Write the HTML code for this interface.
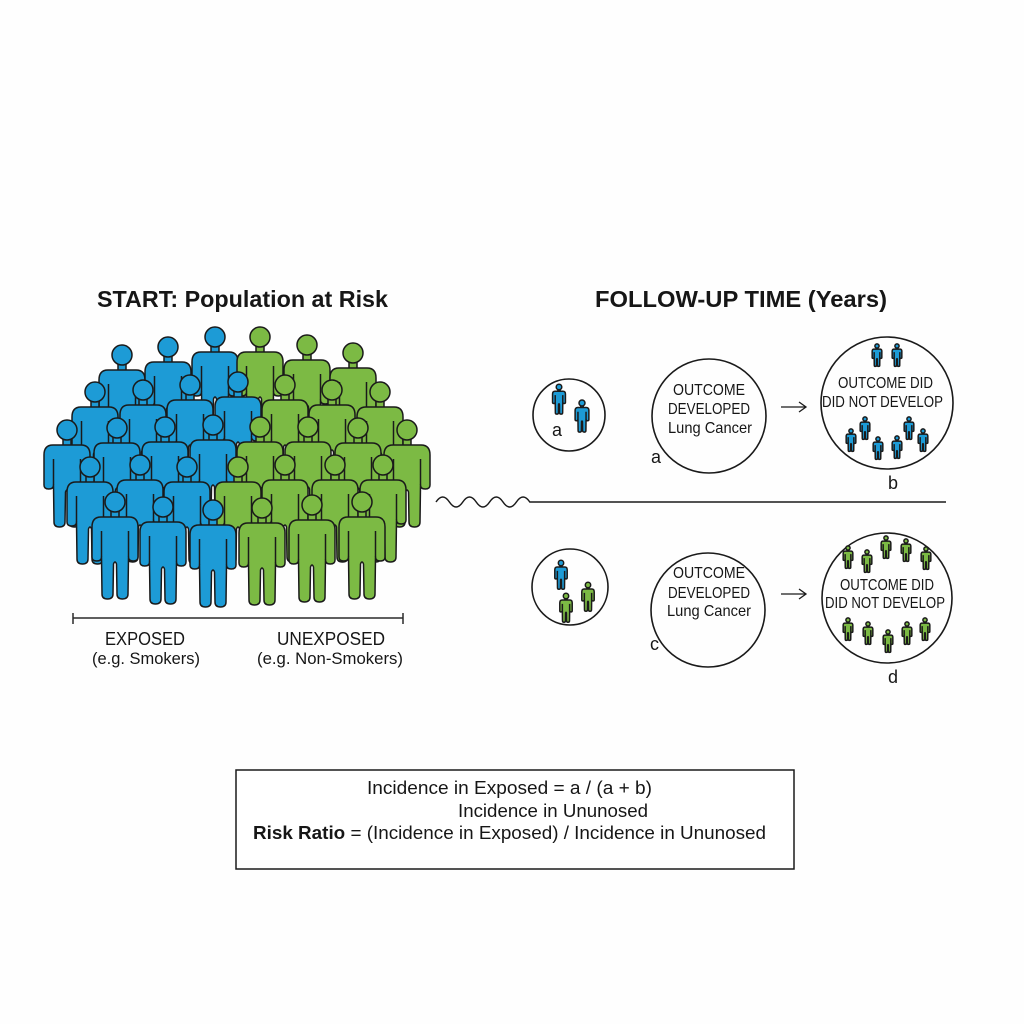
<!DOCTYPE html>
<html>
<head>
<meta charset="utf-8">
<style>
  html,body{margin:0;padding:0;background:#fefefe;}
  svg{display:block;}
  text{font-family:"Liberation Sans",Arial,sans-serif;fill:#161616;}
</style>
</head>
<body>
<svg width="1024" height="1024" viewBox="0 0 1024 1024" xmlns="http://www.w3.org/2000/svg">
  <defs>
    <g id="p" stroke="#1a1a1a" stroke-width="1.5" stroke-linejoin="round">
      <rect x="-4" y="7" width="8" height="9" vector-effect="non-scaling-stroke"/>
      <path vector-effect="non-scaling-stroke" d="M-14,15 L14,15 Q23,15 23,25 L23,55 Q23,59 18.3,59 Q13.5,59 13.5,55 L13,92 Q13,97 7.5,97 Q2,97 2,92 L1.5,62 Q0,58 -1.5,62 L-2,92 Q-2,97 -7.5,97 Q-13,97 -13,92 L-13.5,55 Q-13.5,59 -18.3,59 Q-23,59 -23,55 L-23,25 Q-23,15 -14,15 Z"/>
      <path vector-effect="non-scaling-stroke" d="M13.5,29 L13.5,55 M-13.5,29 L-13.5,55" fill="none"/>
      <circle r="10" vector-effect="non-scaling-stroke"/>
    </g>
  </defs>

  <rect width="1024" height="1024" fill="#fefefe"/>

  <!-- Titles -->
  <text x="97" y="307" font-size="23" font-weight="bold" textLength="291" lengthAdjust="spacingAndGlyphs">START: Population at Risk</text>
  <text x="595" y="307" font-size="23" font-weight="bold" textLength="292" lengthAdjust="spacingAndGlyphs">FOLLOW-UP TIME (Years)</text>

  <!-- Crowd: row 1 (back) -->
  <g>
    <use href="#p" x="122" y="355" fill="#1d9bd6"/>
    <use href="#p" x="168" y="347" fill="#1d9bd6"/>
    <use href="#p" x="215" y="337" fill="#1d9bd6"/>
    <use href="#p" x="260" y="337" fill="#7cba44"/>
    <use href="#p" x="307" y="345" fill="#7cba44"/>
    <use href="#p" x="353" y="353" fill="#7cba44"/>
  </g>
  <!-- row 2 -->
  <g>
    <use href="#p" x="95" y="392" fill="#1d9bd6"/>
    <use href="#p" x="143" y="390" fill="#1d9bd6"/>
    <use href="#p" x="190" y="385" fill="#1d9bd6"/>
    <use href="#p" x="238" y="382" fill="#1d9bd6"/>
    <use href="#p" x="285" y="385" fill="#7cba44"/>
    <use href="#p" x="332" y="390" fill="#7cba44"/>
    <use href="#p" x="380" y="392" fill="#7cba44"/>
  </g>
  <!-- row 3 -->
  <g>
    <use href="#p" x="67" y="430" fill="#1d9bd6"/>
    <use href="#p" x="117" y="428" fill="#1d9bd6"/>
    <use href="#p" x="165" y="427" fill="#1d9bd6"/>
    <use href="#p" x="213" y="425" fill="#1d9bd6"/>
    <use href="#p" x="260" y="427" fill="#7cba44"/>
    <use href="#p" x="308" y="427" fill="#7cba44"/>
    <use href="#p" x="358" y="428" fill="#7cba44"/>
    <use href="#p" x="407" y="430" fill="#7cba44"/>
  </g>
  <!-- row 4 -->
  <g>
    <use href="#p" x="90" y="467" fill="#1d9bd6"/>
    <use href="#p" x="140" y="465" fill="#1d9bd6"/>
    <use href="#p" x="187" y="467" fill="#1d9bd6"/>
    <use href="#p" x="238" y="467" fill="#7cba44"/>
    <use href="#p" x="285" y="465" fill="#7cba44"/>
    <use href="#p" x="335" y="465" fill="#7cba44"/>
    <use href="#p" x="383" y="465" fill="#7cba44"/>
  </g>
  <!-- row 5 (front) -->
  <g>
    <use href="#p" x="115" y="502" fill="#1d9bd6"/>
    <use href="#p" x="163" y="507" fill="#1d9bd6"/>
    <use href="#p" x="213" y="510" fill="#1d9bd6"/>
    <use href="#p" x="262" y="508" fill="#7cba44"/>
    <use href="#p" x="312" y="505" fill="#7cba44"/>
    <use href="#p" x="362" y="502" fill="#7cba44"/>
  </g>

  <!-- Bracket -->
  <g stroke="#2a2a2a" stroke-width="1.5" fill="none">
    <line x1="73" y1="618" x2="403" y2="618"/>
    <line x1="73" y1="613" x2="73" y2="624"/>
    <line x1="403" y1="613" x2="403" y2="624"/>
  </g>
  <text x="105" y="645" font-size="18" textLength="80" lengthAdjust="spacingAndGlyphs">EXPOSED</text>
  <text x="92" y="664" font-size="17" textLength="108" lengthAdjust="spacingAndGlyphs">(e.g. Smokers)</text>
  <text x="277" y="645" font-size="18" textLength="108" lengthAdjust="spacingAndGlyphs">UNEXPOSED</text>
  <text x="257" y="664" font-size="17" textLength="146" lengthAdjust="spacingAndGlyphs">(e.g. Non-Smokers)</text>

  <!-- Timeline -->
  <path d="M436,502 q6.7,-10 13.4,0 t13.4,0 t13.4,0 t13.4,0 t13.4,0 t13.4,0 t13.4,0 L946,502" fill="none" stroke="#1a1a1a" stroke-width="1.5"/>

  <!-- Circles -->
  <g fill="none" stroke="#1a1a1a" stroke-width="1.6">
    <circle cx="569" cy="415" r="36"/>
    <circle cx="709" cy="416" r="57"/>
    <circle cx="887" cy="403" r="66"/>
    <circle cx="570" cy="587" r="38"/>
    <circle cx="708" cy="610" r="57"/>
    <circle cx="887" cy="598" r="65"/>
  </g>

  <!-- small circle 1 people -->
  <use href="#p" transform="translate(559,387) scale(0.28)" fill="#1d9bd6"/>
  <use href="#p" transform="translate(582,403) scale(0.3)" fill="#1d9bd6"/>
  <text x="552" y="436" font-size="18">a</text>

  <!-- middle circle 1 -->
  <text x="673" y="395" font-size="16" textLength="72" lengthAdjust="spacingAndGlyphs">OUTCOME</text>
  <text x="668" y="414" font-size="16" textLength="82" lengthAdjust="spacingAndGlyphs">DEVELOPED</text>
  <text x="668" y="433" font-size="16" textLength="84" lengthAdjust="spacingAndGlyphs">Lung Cancer</text>
  <text x="651" y="463" font-size="18">a</text>

  <!-- arrows -->
  <g fill="none" stroke="#1a1a1a" stroke-width="1.3">
    <path d="M781,407 L806,407 M799,402 L806,407 L799,412"/>
    <path d="M781,594 L806,594 M799,589 L806,594 L799,599"/>
  </g>

  <!-- right circle 1 -->
  <text x="838" y="388" font-size="16" textLength="95" lengthAdjust="spacingAndGlyphs">OUTCOME DID</text>
  <text x="822" y="407" font-size="16" textLength="121" lengthAdjust="spacingAndGlyphs">DID NOT DEVELOP</text>
  <g fill="#1d9bd6">
    <use href="#p" transform="translate(877,346) scale(0.21)"/>
    <use href="#p" transform="translate(897,346) scale(0.21)"/>
    <use href="#p" transform="translate(851,431) scale(0.21)"/>
    <use href="#p" transform="translate(865,419) scale(0.21)"/>
    <use href="#p" transform="translate(878,439) scale(0.21)"/>
    <use href="#p" transform="translate(897,438) scale(0.21)"/>
    <use href="#p" transform="translate(909,419) scale(0.21)"/>
    <use href="#p" transform="translate(923,431) scale(0.21)"/>
  </g>
  <text x="888" y="489" font-size="18">b</text>

  <!-- small circle 2 -->
  <use href="#p" transform="translate(561,563) scale(0.27)" fill="#1d9bd6"/>
  <use href="#p" transform="translate(566,596) scale(0.27)" fill="#7cba44"/>
  <use href="#p" transform="translate(588,585) scale(0.27)" fill="#7cba44"/>

  <!-- middle circle 2 -->
  <text x="673" y="578" font-size="16" textLength="72" lengthAdjust="spacingAndGlyphs">OUTCOME</text>
  <text x="668" y="598" font-size="16" textLength="82" lengthAdjust="spacingAndGlyphs">DEVELOPED</text>
  <text x="667" y="616" font-size="16" textLength="84" lengthAdjust="spacingAndGlyphs">Lung Cancer</text>
  <text x="650" y="650" font-size="18">c</text>

  <!-- right circle 2 -->
  <text x="840" y="590" font-size="16" textLength="94" lengthAdjust="spacingAndGlyphs">OUTCOME DID</text>
  <text x="825" y="608" font-size="16" textLength="120" lengthAdjust="spacingAndGlyphs">DID NOT DEVELOP</text>
  <g fill="#7cba44">
    <use href="#p" transform="translate(848,548) scale(0.21)"/>
    <use href="#p" transform="translate(867,552) scale(0.21)"/>
    <use href="#p" transform="translate(886,538) scale(0.21)"/>
    <use href="#p" transform="translate(906,541) scale(0.21)"/>
    <use href="#p" transform="translate(926,549) scale(0.21)"/>
    <use href="#p" transform="translate(848,620) scale(0.21)"/>
    <use href="#p" transform="translate(868,624) scale(0.21)"/>
    <use href="#p" transform="translate(888,632) scale(0.21)"/>
    <use href="#p" transform="translate(907,624) scale(0.21)"/>
    <use href="#p" transform="translate(925,620) scale(0.21)"/>
  </g>
  <text x="888" y="683" font-size="18">d</text>

  <!-- Formula box -->
  <rect x="236" y="770" width="558" height="99" fill="#ffffff" stroke="#1a1a1a" stroke-width="1.5"/>
  <text x="367" y="794" font-size="18" textLength="285" lengthAdjust="spacingAndGlyphs">Incidence in Exposed = a / (a + b)</text>
  <text x="458" y="817" font-size="18" textLength="190" lengthAdjust="spacingAndGlyphs">Incidence in Ununosed</text>
  <text x="253" y="839" font-size="18" textLength="513" lengthAdjust="spacingAndGlyphs"><tspan font-weight="bold">Risk Ratio</tspan> = (Incidence in Exposed)  /  Incidence in Ununosed</text>
</svg>
</body>
</html>
